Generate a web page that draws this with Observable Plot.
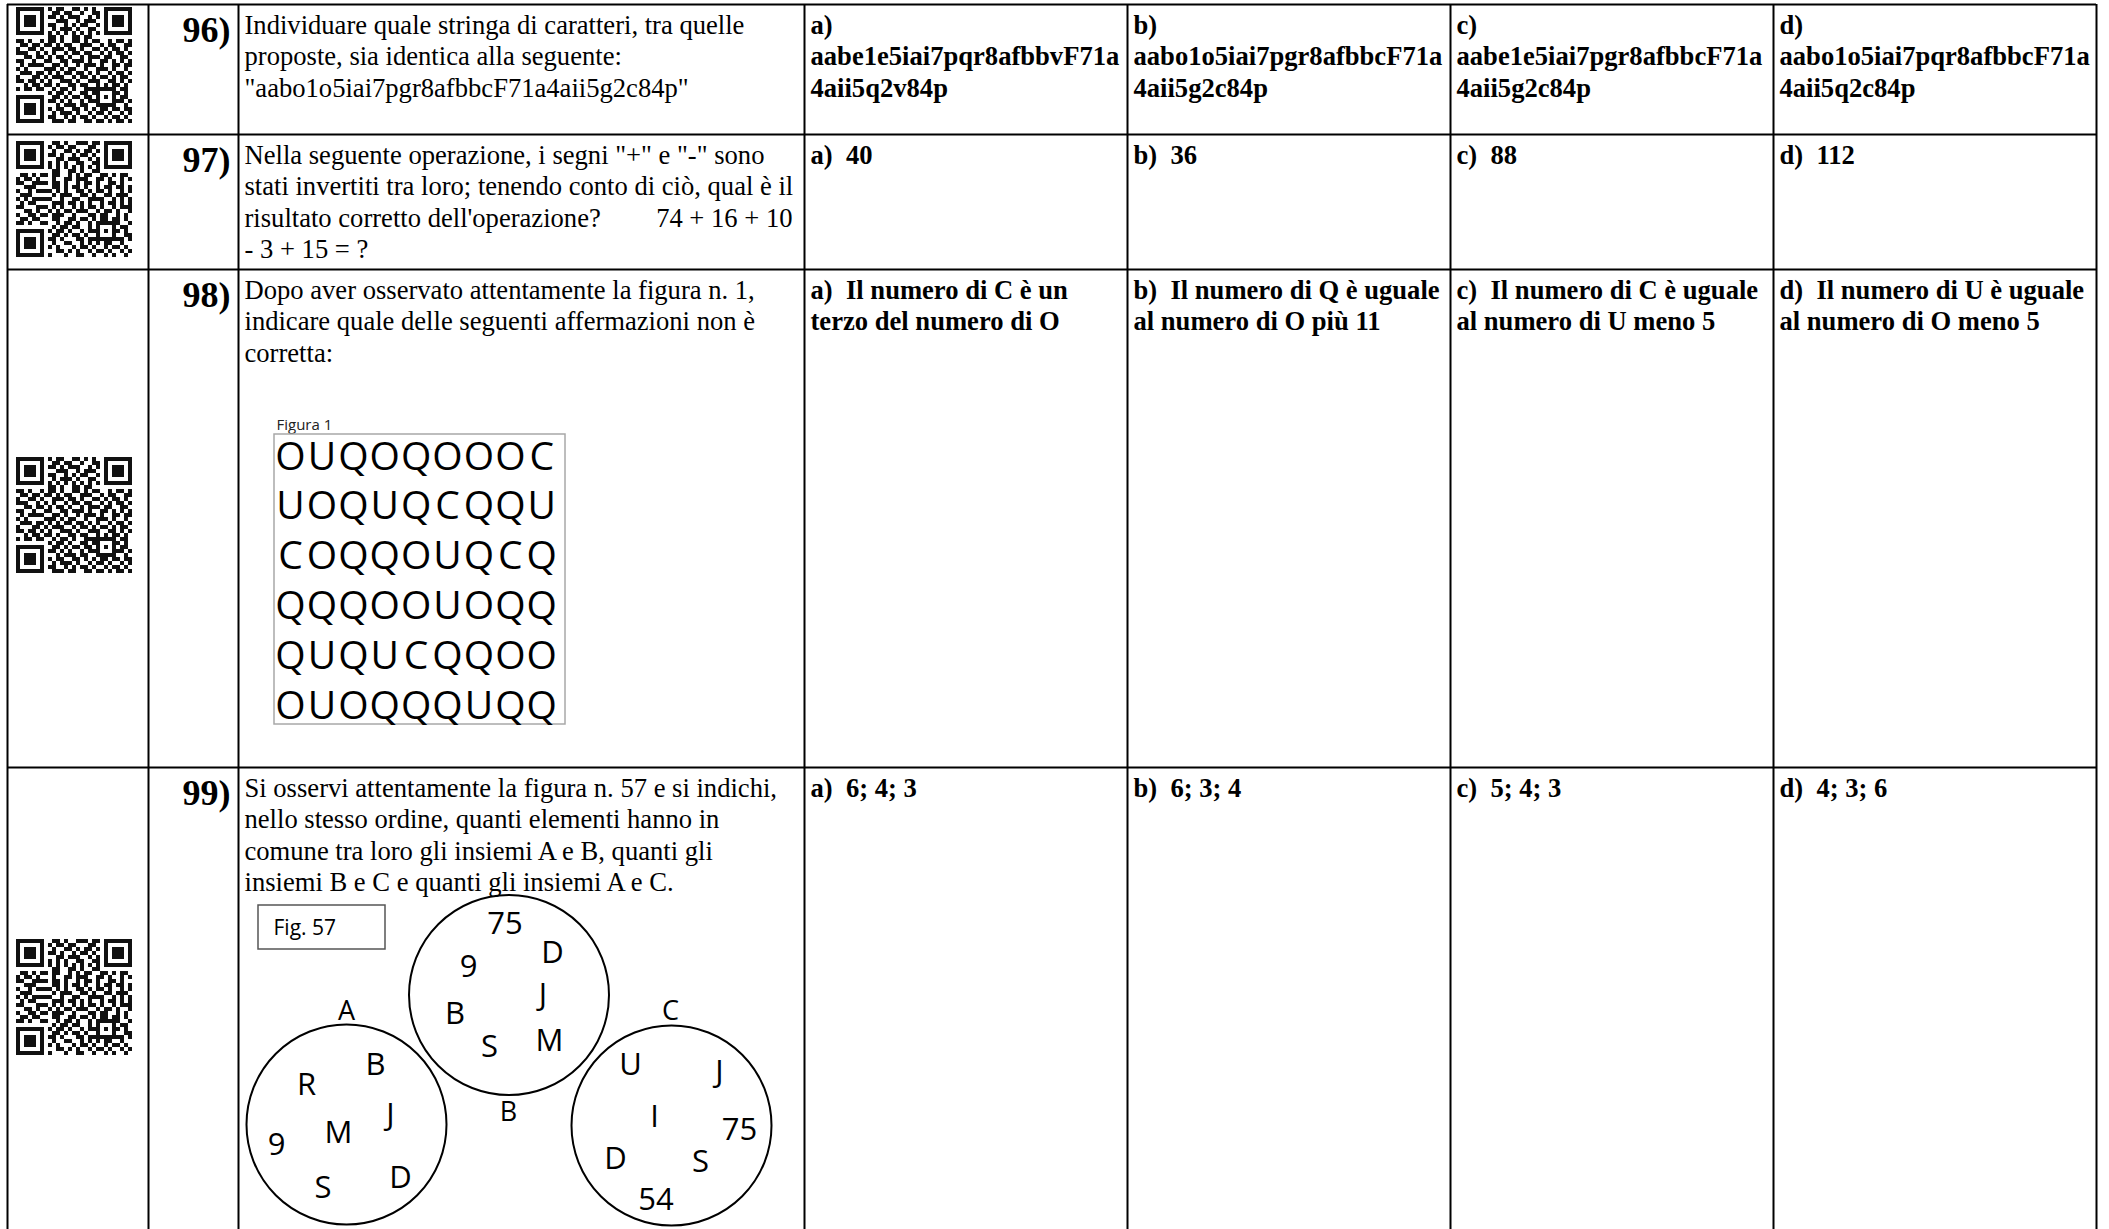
<!DOCTYPE html>
<html><head><meta charset="utf-8">
<script src="https://cdn.jsdelivr.net/npm/d3@7"></script>
<script src="https://cdn.jsdelivr.net/npm/@observablehq/plot@0.6"></script>
<style>html,body{margin:0;padding:0;background:#fff;overflow:hidden}svg{display:block}</style>
</head><body><div id="chart"></div>
<script>
// ---------- DATA ----------
const questionNumbers = ["96)", "97)", "98)", "99)"];

const questionTexts = [
  ["Individuare quale stringa di caratteri, tra quelle",
   "proposte, sia identica alla seguente:",
   "\"aabo1o5iai7pgr8afbbcF71a4aii5g2c84p\""],
  ["Nella seguente operazione, i segni \"+\" e \"-\" sono",
   "stati invertiti tra loro; tenendo conto di ciò, qual è il",
   "risultato corretto dell'operazione?\t74 + 16 + 10",
   "- 3 + 15 = ?"],
  ["Dopo aver osservato attentamente la figura n. 1,",
   "indicare quale delle seguenti affermazioni non è",
   "corretta:"],
  ["Si osservi attentamente la figura n. 57 e si indichi,",
   "nello stesso ordine, quanti elementi hanno in",
   "comune tra loro gli insiemi A e B, quanti gli",
   "insiemi B e C e quanti gli insiemi A e C."]
];

const optionTexts = [
  [["a)", "aabe1e5iai7pqr8afbbvF71a", "4aii5q2v84p"],
   ["b)", "aabo1o5iai7pgr8afbbcF71a", "4aii5g2c84p"],
   ["c)", "aabe1e5iai7pgr8afbbcF71a", "4aii5g2c84p"],
   ["d)", "aabo1o5iai7pqr8afbbcF71a", "4aii5q2c84p"]],
  [["a)\u00a0\u00a040"], ["b)\u00a0\u00a036"], ["c)\u00a0\u00a088"], ["d)\u00a0\u00a0112"]],
  [["a)\u00a0\u00a0Il numero di C è un", "terzo del numero di O"],
   ["b)\u00a0\u00a0Il numero di Q è uguale", "al numero di O più 11"],
   ["c)\u00a0\u00a0Il numero di C è uguale", "al numero di U meno 5"],
   ["d)\u00a0\u00a0Il numero di U è uguale", "al numero di O meno 5"]],
  [["a)\u00a0\u00a06; 4; 3"], ["b)\u00a0\u00a06; 3; 4"], ["c)\u00a0\u00a05; 4; 3"], ["d)\u00a0\u00a04; 3; 6"]]
];

const figure1Title = "Figura 1";
const figure1Rows = ["OUQOQOOOC", "UOQUQCQQU", "COQQOUQCQ", "QQQOOUOQQ", "QUQUCQQOO", "OUOQQQUQQ"];

const fig57Title = "Fig. 57";
const setNames = ["A", "B", "C"];
const setA = ["B", "R", "J", "M", "9", "D", "S"];
const setB = ["75", "D", "9", "J", "B", "M", "S"];
const setC = ["U", "J", "I", "75", "D", "S", "54"];

const qrA = [
  "11111110101100110101001111111",
  "10000010011011001001101000001",
  "10111010110101110010101011101",
  "10111010001110010111001011101",
  "10111010110010101100101011101",
  "10000010010111010011001000001",
  "11111110101010101010101111111",
  "00000000110100110110000000000",
  "11010010110100110101100101101",
  "01101101101011001110010110011",
  "10011010011101101001101011010",
  "11100101010010110110010101101",
  "00110110101101001011101100110",
  "11001001100110111010011010101",
  "01011110011010010111010011011",
  "10100001110101100100111010010",
  "01110110101011011010100101101",
  "10001101011100101101011010110",
  "11011010100111010011100110101",
  "00101101101001101100101011010",
  "10110110010110100111111110110",
  "00000000101101001101100011010",
  "11111110011010110110101010110",
  "10000010110101001011100011101",
  "10111010001011101100111110010",
  "10111010101100110101011011011",
  "10111010010111010010110100101",
  "10000010110010101101001011010",
  "11111110011101100110110101101"
];
const qrB = [
  "11111110011010011101101111111",
  "10000010101101100011001000001",
  "10111010010011010110101011101",
  "10111010110100101101001011101",
  "10111010001101110010101011101",
  "10000010101010011001101000001",
  "11111110101010101010101111111",
  "00000000011001101001100000000",
  "01101011011001010110011010110",
  "10110100010011011100110100101",
  "11001111011010010110100110100",
  "00111000011010110100101101101",
  "10010111101010011010110100101",
  "01110000010111001101001101110",
  "10101111100100110011110010101",
  "01011000011101101010010110101",
  "11000111010100101011010010111",
  "00110100101011011100101101001",
  "10011011011100100011011001010",
  "01101100011001101101011011010",
  "11010011001011010010111111001",
  "00000000010110110010100010110",
  "11111110101101001011101011010",
  "10000010011010110100100010011",
  "10111010110100011011111111101",
  "10111010010011001010101100100",
  "10111010101000101101001011010",
  "10000010001101010010110100101",
  "11111110100010011001001010010"
];
const qrCodes = [qrA, qrB, qrA, qrB];

// ---------- LAYOUT ----------
const W = 2109, H = 1229;
const colEdges = [7, 148, 238, 804, 1127, 1450, 1773, 2096];
const rowEdges = [4, 134, 269, 767, H];
const qrTop = [7, 141, 457, 939], qrLeft = 16, qrModule = 4;
const pad = 6, firstBaseline = 29, lineStep = 31.5;

const qrCells = [];
qrCodes.forEach((code, q) => code.forEach((row, r) => [...row].forEach((c, k) => {
  if (c === "1") qrCells.push({x1: qrLeft + k * qrModule, x2: qrLeft + (k + 1) * qrModule,
    y1: qrTop[q] + r * qrModule, y2: qrTop[q] + (r + 1) * qrModule});
})));

const numberLabels = questionNumbers.map((t, i) => ({t, x: colEdges[2] - 8, y: rowEdges[i] + 37}));

const bodyLeft = [], bodyRight = [];
questionTexts.forEach((lines, i) => lines.forEach((line, j) => {
  const [left, right] = line.split("\t");
  const y = rowEdges[i] + firstBaseline + j * lineStep;
  bodyLeft.push({t: left, x: colEdges[2] + pad, y});
  if (right) bodyRight.push({t: right, x: colEdges[3] - 12, y});
}));

const optionLines = [];
optionTexts.forEach((opts, i) => opts.forEach((lines, k) => lines.forEach((line, j) => {
  optionLines.push({t: line, x: colEdges[3 + k] + pad, y: rowEdges[i] + firstBaseline + j * lineStep});
})));

const fig1Letters = [];
figure1Rows.forEach((row, r) => [...row].forEach((ch, c) => {
  fig1Letters.push({t: ch, x: 290 + c * 31.4, y: 469 + r * 49.8});
}));

const circleCenters = [{x: 346, y: 1124}, {x: 508.5, y: 994.5}, {x: 671, y: 1125}];
const setLabelPos = [{x: 346, y: 1011}, {x: 508, y: 1112}, {x: 670, y: 1011}];
const posA = [[375, 1065], [306, 1085], [390, 1115], [338, 1133], [276, 1145], [400, 1178], [322.5, 1188]];
const posB = [[504.5, 924], [552, 953], [468, 967], [542.5, 995], [454.5, 1014], [549, 1041], [489, 1047]];
const posC = [[630, 1065], [719, 1072], [654, 1117], [739, 1130], [615, 1159], [700, 1162], [655.5, 1200]];
const vennLetters = [];
[[setA, posA], [setB, posB], [setC, posC]].forEach(([items, pos]) =>
  items.forEach((t, i) => vennLetters.push({t, x: pos[i][0], y: pos[i][1]})));
const setLabels = setNames.map((t, i) => ({t, ...setLabelPos[i]}));

const serif = "'Liberation Serif', 'Times New Roman', serif";
const sans = "'Open Sans', 'Noto Sans', sans-serif";

const chart = Plot.plot({
  width: W, height: H,
  margin: 0,
  x: {type: "linear", domain: [0, W], range: [0, W], axis: null},
  y: {type: "linear", domain: [0, H], range: [0, H], axis: null},
  style: {background: "white", color: "black", overflow: "hidden"},
  marks: [
    // QR codes
    Plot.rect(qrCells, {x1: "x1", x2: "x2", y1: "y1", y2: "y2", fill: "#111", shapeRendering: "crispEdges"}),
    // table grid
    Plot.ruleX(colEdges, {x: d => d, y1: rowEdges[0], y2: H, stroke: "black", strokeWidth: 2}),
    Plot.ruleY(rowEdges.slice(0, 4), {y: d => d, x1: colEdges[0], x2: colEdges[7], stroke: "black", strokeWidth: 2}),
    // question numbers
    Plot.text(numberLabels, {x: "x", y: "y", text: "t", textAnchor: "end", lineAnchor: "bottom",
      fontFamily: serif, fontWeight: "bold", fontSize: 36, fill: "black"}),
    // question texts
    Plot.text(bodyLeft, {x: "x", y: "y", text: "t", textAnchor: "start", lineAnchor: "bottom",
      fontFamily: serif, fontSize: 26.6, fill: "black"}),
    Plot.text(bodyRight, {x: "x", y: "y", text: "t", textAnchor: "end", lineAnchor: "bottom",
      fontFamily: serif, fontSize: 26.6, fill: "black"}),
    // options
    Plot.text(optionLines, {x: "x", y: "y", text: "t", textAnchor: "start", lineAnchor: "bottom",
      fontFamily: serif, fontWeight: "bold", fontSize: 26.6, fill: "black"}),
    // Figure 1
    Plot.text([figure1Title], {x: 276, y: 429, text: d => d, textAnchor: "start", lineAnchor: "bottom",
      fontFamily: sans, fontSize: 15, fill: "#222"}),
    Plot.rect([0], {x1: 274, x2: 565, y1: 434, y2: 724, fill: "none", stroke: "#a8a8a8", strokeWidth: 1.5}),
    Plot.text(fig1Letters, {x: "x", y: "y", text: "t", textAnchor: "middle", lineAnchor: "bottom",
      fontFamily: sans, fontSize: 39, fontWeight: 500, fill: "black"}),
    // Fig. 57
    Plot.rect([0], {x1: 258, x2: 385, y1: 905, y2: 949, fill: "none", stroke: "#555", strokeWidth: 1.5}),
    Plot.text([fig57Title], {x: 273, y: 928, text: d => d, textAnchor: "start", lineAnchor: "middle",
      fontFamily: sans, fontSize: 21, fill: "black"}),
    Plot.dot(circleCenters, {x: "x", y: "y", r: 100, fill: "none", stroke: "black", strokeWidth: 2}),
    Plot.text(setLabels, {x: "x", y: "y", text: "t", textAnchor: "middle", lineAnchor: "middle",
      fontFamily: sans, fontSize: 27, fill: "black"}),
    Plot.text(vennLetters, {x: "x", y: "y", text: "t", textAnchor: "middle", lineAnchor: "middle",
      fontFamily: sans, fontSize: 31, fontWeight: 500, fill: "black"})
  ]
});
document.getElementById("chart").appendChild(chart);
</script>
</body></html>
